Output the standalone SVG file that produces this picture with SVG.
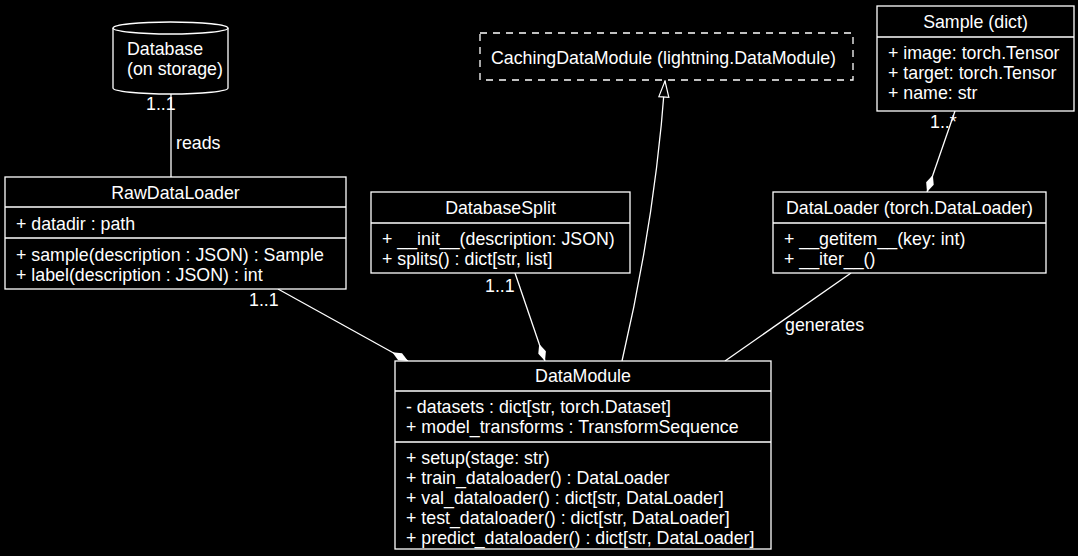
<svg xmlns="http://www.w3.org/2000/svg" width="1078" height="556" viewBox="0 0 1078 556">
<style>
text{font-family:"Liberation Sans",Arial,sans-serif;font-size:17.8px;fill:#fff}
.b{fill:#000;stroke:#fff;stroke-width:1.3}
.l{stroke:#fff;stroke-width:1.3;fill:none}
.c{text-anchor:middle}
</style>
<defs>
<marker id="dia" viewBox="0 0 20 10" refX="19" refY="5" markerWidth="20" markerHeight="10" markerUnits="userSpaceOnUse" orient="auto"><path d="M1,5 L10,1 L19,5 L10,9 Z" fill="#fff"/></marker>
<marker id="tri" viewBox="0 0 18 12" refX="17" refY="6" markerWidth="18" markerHeight="12" markerUnits="userSpaceOnUse" orient="auto"><path d="M17,6 L1,1 L1,11 Z" fill="#000" stroke="#fff" stroke-width="1.2"/></marker>
</defs>
<rect width="1078" height="556" fill="#000"/>
<g id="connectors">
<line class="l" x1="171" y1="93" x2="171" y2="177"/>
<text x="146" y="110">1..1</text><text x="176" y="149">reads</text>
<line class="l" x1="278" y1="289" x2="408" y2="361" marker-end="url(#dia)"/>
<text x="249" y="306">1..1</text>
<line class="l" x1="515" y1="273" x2="545" y2="361" marker-end="url(#dia)"/>
<text x="485" y="292">1..1</text>
<path class="l" d="M622,361 Q655,220 665,81" marker-end="url(#tri)"/>
<line class="l" x1="851" y1="273" x2="725" y2="361"/>
<text x="785" y="331">generates</text>
<line class="l" x1="955" y1="111" x2="927" y2="192" marker-end="url(#dia)"/>
<text x="930" y="128">1..*</text>
</g>
<g id="database">
<path class="b" d="M113,28 L113,88 A57.5,6 0 0 0 228,88 L228,28 A57.5,6 0 0 0 113,28 Z"/>
<path class="l" d="M113,28 A57.5,6 0 0 0 228,28"/>
<text x="127" y="55">Database</text><text x="127" y="75">(on storage)</text>
</g>
<g id="caching">
<rect x="480" y="33" width="373" height="47" fill="#000" stroke="#fff" stroke-width="1.3" stroke-dasharray="7,6"/>
<text x="491" y="64">CachingDataModule (lightning.DataModule)</text>
</g>
<g id="sample">
<rect class="b" x="877" y="6" width="197" height="105"/>
<line class="l" x1="877" y1="37" x2="1074" y2="37"/>
<text class="c" x="975.5" y="28">Sample (dict)</text>
<text x="888" y="59">+ image: torch.Tensor</text>
<text x="888" y="79">+ target: torch.Tensor</text>
<text x="888" y="99">+ name: str</text>
</g>
<g id="rawdataloader">
<rect class="b" x="5" y="177" width="341" height="112"/>
<line class="l" x1="5" y1="207" x2="346" y2="207"/>
<line class="l" x1="5" y1="238" x2="346" y2="238"/>
<text class="c" x="175.5" y="199">RawDataLoader</text>
<text x="16" y="230">+ datadir : path</text>
<text x="16" y="261">+ sample(description : JSON) : Sample</text>
<text x="16" y="281">+ label(description : JSON) : int</text>
</g>
<g id="databasesplit">
<rect class="b" x="371" y="192" width="259" height="81"/>
<line class="l" x1="371" y1="223" x2="630" y2="223"/>
<text class="c" x="500.5" y="214">DatabaseSplit</text>
<text x="382" y="245">+ __init__(description: JSON)</text>
<text x="382" y="265">+ splits() : dict[str, list]</text>
</g>
<g id="dataloader">
<rect class="b" x="773" y="192" width="273" height="81"/>
<line class="l" x1="773" y1="223" x2="1046" y2="223"/>
<text class="c" x="909.5" y="214">DataLoader (torch.DataLoader)</text>
<text x="784" y="245">+ __getitem__(key: int)</text>
<text x="784" y="265">+ __iter__()</text>
</g>
<g id="datamodule">
<rect class="b" x="395" y="361" width="376" height="188"/>
<line class="l" x1="395" y1="391" x2="771" y2="391"/>
<line class="l" x1="395" y1="442" x2="771" y2="442"/>
<text class="c" x="583" y="382">DataModule</text>
<text x="406" y="413">- datasets : dict[str, torch.Dataset]</text>
<text x="406" y="433">+ model_transforms : TransformSequence</text>
<text x="406" y="464">+ setup(stage: str)</text>
<text x="406" y="484">+ train_dataloader() : DataLoader</text>
<text x="406" y="504">+ val_dataloader() : dict[str, DataLoader]</text>
<text x="406" y="524">+ test_dataloader() : dict[str, DataLoader]</text>
<text x="406" y="544">+ predict_dataloader() : dict[str, DataLoader]</text>
</g>
</svg>
